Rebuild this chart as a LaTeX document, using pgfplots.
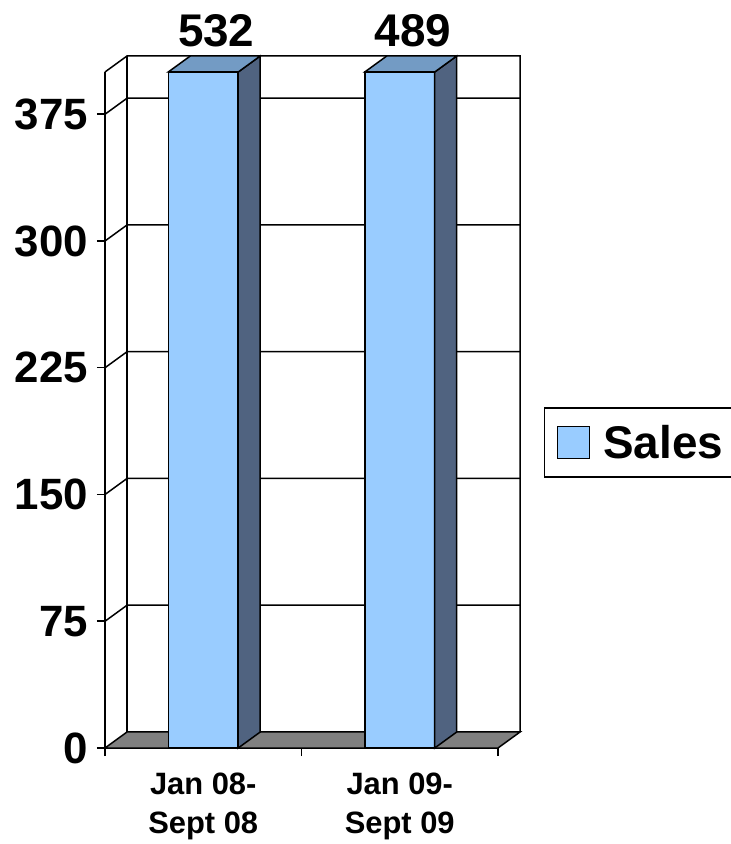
\documentclass[border=0pt]{standalone}
\usepackage{fontspec}
\setmainfont{Liberation Sans}
\usepackage{pgfplots}
\pgfplotsset{compat=1.18}
\definecolor{barfront}{RGB}{153,204,255}
\definecolor{bartop}{RGB}{115,155,196}
\definecolor{barside}{RGB}{80,99,128}
\definecolor{floorgray}{RGB}{128,128,128}

\begin{document}
\begin{tikzpicture}
\useasboundingbox (0,0) rectangle (731bp,844bp);
\begin{axis}[
    at={(105bp,96bp)}, anchor=south west,
    scale only axis, width=393bp, height=676bp,
    xmin=-0.5, xmax=1.5, ymin=0, ymax=400,
    clip=false,
    axis lines*=left,
    axis line style={line width=1.5bp},
    every tick/.style={black, line width=1.5bp},
    tick align=outside,
    major tick length=8bp,
    ytick={0,75,150,225,300,375},
    /pgf/number format/assume math mode=true,
    yticklabel style={font=\fontsize{44}{50}\selectfont\bfseries, inner sep=0pt, xshift=-9bp},
    xtick={-0.5,0.5,1.5},
    xticklabels={},
    extra x ticks={0,1},
    extra x tick labels={Jan 08-\\Sept 08, Jan 09-\\Sept 09},
    extra x tick style={major tick length=0pt,
        xticklabel style={font=\fontsize{31}{39}\selectfont\bfseries, align=center, inner sep=0pt, anchor=north, yshift=-25bp}},
    legend style={at={(axis description cs:1.117,0.452)}, anchor=west,
        draw=black, line width=1.5bp, inner xsep=12bp, inner ysep=15bp,
        font=\fontsize{46}{50}\selectfont\bfseries,
        /tikz/every odd column/.style={column sep=11bp}},
]
% back wall and left wall
\draw[line width=1.5bp] (axis cs:-0.5,400) -- (axis cs:-0.388,409.47) -- (axis cs:1.612,409.47) -- (axis cs:1.612,9.47);
\draw[line width=1.5bp] (axis cs:-0.388,9.47) -- (axis cs:-0.388,409.47);
\pgfplotsinvokeforeach{75,150,225,300,375}{
  \draw[line width=1.5bp] (axis cs:-0.5,#1) -- (axis cs:-0.388,#1+9.47) -- (axis cs:1.612,#1+9.47);
}
% floor
\filldraw[fill=floorgray, line width=1.5bp] (axis cs:-0.5,0) -- (axis cs:1.5,0) -- (axis cs:1.612,9.47) -- (axis cs:-0.388,9.47) -- cycle;
% bars, cut at the top of the axis
\addplot[ybar, bar width=0.356, fill=barfront, draw=black, line width=1.5bp,
    restrict y to domain*=0:400,
    point meta=explicit, nodes near coords,
    nodes near coords style={font=\fontsize{46}{50}\selectfont\bfseries, anchor=base, inner sep=0pt, yshift=25bp, xshift=13bp},
    legend image code/.code={\draw[fill=barfront, line width=1.5bp] (0bp,-16bp) rectangle (32bp,16bp);}]
    coordinates {(0,532) [532] (1,489) [489]};
\addlegendentry{Sales}
\pgfplotsinvokeforeach{0,1}{
  \filldraw[fill=barside, line width=1.5bp] (axis cs:#1+0.178,0) -- (axis cs:#1+0.29,9.47) -- (axis cs:#1+0.29,409.47) -- (axis cs:#1+0.178,400) -- cycle;
  \filldraw[fill=bartop, line width=1.5bp] (axis cs:#1-0.178,400) -- (axis cs:#1+0.178,400) -- (axis cs:#1+0.29,409.47) -- (axis cs:#1-0.066,409.47) -- cycle;
}
\end{axis}
\end{tikzpicture}
\end{document}
